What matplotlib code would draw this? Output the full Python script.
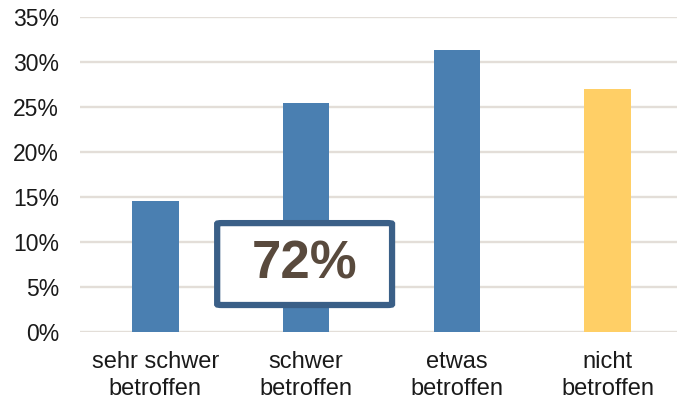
import matplotlib
matplotlib.use("Agg")
import matplotlib.pyplot as plt
from matplotlib.patches import FancyBboxPatch
from matplotlib.ticker import PercentFormatter

categories = ["sehr schwer\nbetroffen", "schwer\nbetroffen", "etwas\nbetroffen", "nicht\nbetroffen"]
values = [14.6, 25.4, 31.3, 27.0]
colors = ["#4a7fb1", "#4a7fb1", "#4a7fb1", "#ffcf66"]
yticks = [0, 5, 10, 15, 20, 25, 30, 35]
callout = "72%"

plt.rcParams['font.family'] = ['Liberation Sans', 'DejaVu Sans']

fig = plt.figure(figsize=(6.77, 4.01), dpi=100)
ax = fig.add_axes([80/677, (401-332)/401, (683-80)/677, (332-17)/401])

x = list(range(len(categories)))
ax.bar(x, values, width=0.31, color=colors, zorder=2)

ax.set_xlim(-0.5, 3.5)
ax.set_ylim(0, 35)
ax.set_yticks(yticks)
ax.yaxis.set_major_formatter(PercentFormatter(decimals=0))
ax.set_xticks(x)
ax.set_xticklabels(categories, fontsize=17, color="#1a1a1a", linespacing=1.25)
ax.tick_params(axis='y', labelsize=16.5, length=0, pad=15, labelcolor="#1a1a1a")
ax.tick_params(axis='x', length=0, pad=14)

ax.grid(axis='y', color="#e3ded8", linewidth=1.7, zorder=0)
for s in ax.spines.values():
    s.set_visible(False)

# callout box (in axes/data coords)
box = FancyBboxPatch((0.41, 3.0), 1.16, 9.1,
                     boxstyle="round,pad=0,rounding_size=0.03",
                     mutation_aspect=9.1/1.16*0.35,
                     facecolor="white", edgecolor="#3a5f87", linewidth=4.5,
                     transform=ax.transData, zorder=5)
ax.add_patch(box)
ax.text(0.99, 7.55, callout, fontsize=38, fontweight='bold', color="#594a3d",
        ha='center', va='center', zorder=6)

fig.savefig("out.png", dpi=100)
